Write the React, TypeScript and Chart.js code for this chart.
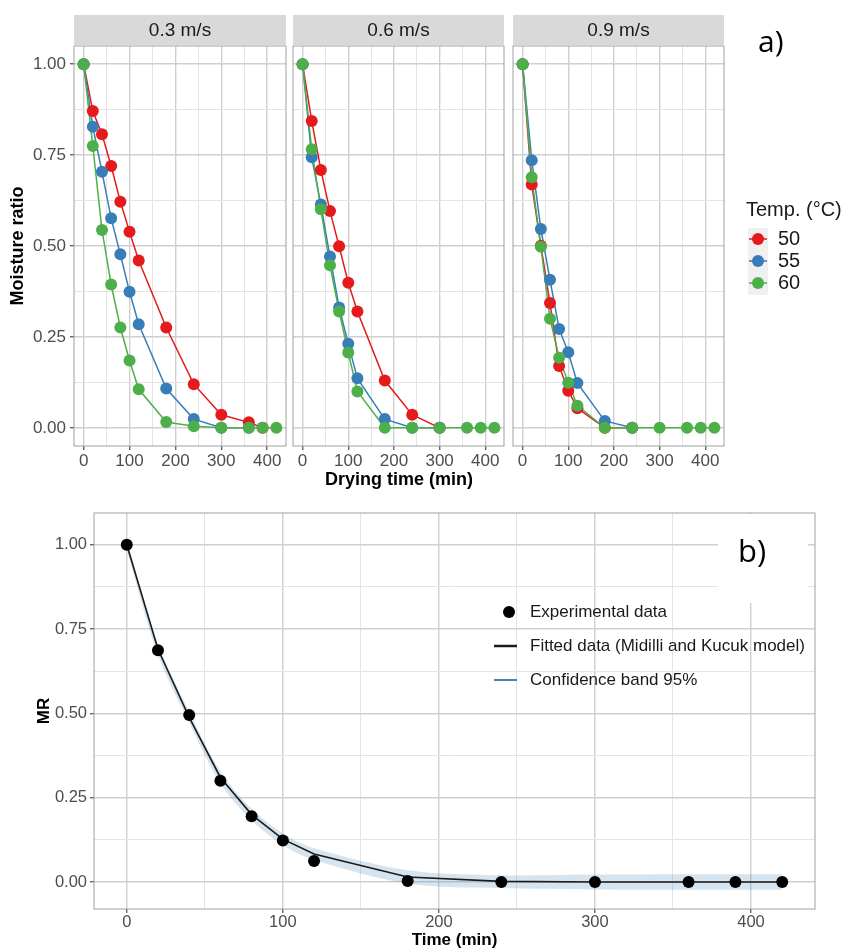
import React, { useEffect, useRef } from 'react';
import { Chart, registerables } from 'chart.js';

Chart.register(...registerables);

// ---------- data ----------
const TIMES = [0, 20, 40, 60, 80, 100, 120, 180, 240, 300, 360, 390, 420];
const TEMPS = ['50', '55', '60'];
const SPEEDS = ['0.3 m/s', '0.6 m/s', '0.9 m/s'];
const COLORS = ['#e41a1c', '#377eb8', '#4daf4a'];

// 0.3 m/s
const MR_03_50 = [1.0, 0.871, 0.807, 0.72, 0.622, 0.539, 0.46, 0.276, 0.12, 0.036, 0.015, 0.0, null];
const MR_03_55 = [1.0, 0.828, 0.704, 0.576, 0.477, 0.374, 0.285, 0.108, 0.024, 0.0, 0.0, null, null];
const MR_03_60 = [1.0, 0.775, 0.544, 0.394, 0.276, 0.185, 0.106, 0.016, 0.004, 0.0, 0.0, 0.0, 0.0];
// 0.6 m/s
const MR_06_50 = [1.0, 0.844, 0.709, 0.596, 0.499, 0.399, 0.32, 0.13, 0.036, 0.0, null, null, null];
const MR_06_55 = [1.0, 0.744, 0.614, 0.471, 0.331, 0.231, 0.136, 0.024, 0.0, 0.0, null, null, null];
const MR_06_60 = [1.0, 0.766, 0.601, 0.447, 0.32, 0.207, 0.1, 0.0, 0.0, 0.0, 0.0, 0.0, 0.0];
// 0.9 m/s
const MR_09_50 = [1.0, 0.669, 0.501, 0.343, 0.17, 0.102, 0.054, 0.0, 0.0, null, null, null, null];
const MR_09_55 = [1.0, 0.736, 0.547, 0.407, 0.272, 0.208, 0.123, 0.019, 0.0, null, null, null, null];
const MR_09_60 = [1.0, 0.689, 0.498, 0.3, 0.193, 0.124, 0.061, 0.0, 0.0, 0.0, 0.0, 0.0, 0.0];

const FACETS = [
  [MR_03_50, MR_03_55, MR_03_60],
  [MR_06_50, MR_06_55, MR_06_60],
  [MR_09_50, MR_09_55, MR_09_60],
];

// panel b
const B_TIMES = [0, 20, 40, 60, 80, 100, 120, 180, 240, 300, 360, 390, 420];
const B_EXP = [1.0, 0.687, 0.495, 0.3, 0.195, 0.123, 0.062, 0.003, 0.0, 0.0, 0.0, 0.0, 0.0];
const B_FIT = [1.0, 0.69, 0.488, 0.31, 0.2, 0.127, 0.083, 0.015, 0.002, 0.0, 0.0, 0.0, 0.0];
const B_LO = [0.985, 0.672, 0.472, 0.292, 0.183, 0.11, 0.065, -0.005, -0.018, -0.022, -0.023, -0.023, -0.023];
const B_HI = [1.015, 0.708, 0.505, 0.328, 0.217, 0.144, 0.1, 0.035, 0.02, 0.022, 0.023, 0.023, 0.023];

const X_GRID = [0, 50, 100, 150, 200, 250, 300, 350, 400];
const Y_GRID = [0, 0.125, 0.25, 0.375, 0.5, 0.625, 0.75, 0.875, 1.0];

// ---------- layout ----------
const W = 846;
const H = 950;
const A_LEFT = [74, 293, 513];
const A_RIGHT = [286, 504, 724];
const A_TOP = 46;
const A_BOTTOM = 446;
const B_BOX = { left: 94, right: 815, top: 513, bottom: 909 };

const FONT = '"Liberation Sans", Arial, Helvetica, sans-serif';
const TICK_COLOR = '#4d4d4d';

const isMajorX = (v: number) => Math.abs(v / 100 - Math.round(v / 100)) < 1e-6;
const isMajorY = (v: number) => Math.abs(v / 0.25 - Math.round(v / 0.25)) < 1e-6;

const toPts = (xs: number[], ys: (number | null)[]) =>
  xs.map((x, i) => ({ x, y: ys[i] })).filter((p) => p.y !== null && p.y !== undefined);

function gridOpts(isMajor: (v: number) => boolean, drawTicks: boolean) {
  return {
    display: true,
    drawTicks,
    tickLength: 4,
    color: (c: any) => (c.tick && isMajor(c.tick.value) ? '#cfcfcf' : '#e4e4e4'),
    lineWidth: (c: any) => (c.tick && isMajor(c.tick.value) ? 1.4 : 1),
    tickColor: (c: any) => (c.tick && isMajor(c.tick.value) ? '#666666' : 'rgba(0,0,0,0)'),
  };
}

function drawBorder(chart: any) {
  const { ctx, chartArea: a } = chart;
  ctx.save();
  ctx.strokeStyle = '#a0a0a0';
  ctx.lineWidth = 1;
  ctx.strokeRect(a.left, a.top, a.right - a.left, a.bottom - a.top);
  ctx.restore();
}

function facetConfig(idx: number): any {
  const series = FACETS[idx];
  const datasets: any[] = [];
  series.forEach((arr, k) => {
    datasets.push({
      label: TEMPS[k] + ' line',
      data: toPts(TIMES, arr),
      borderColor: COLORS[k],
      borderWidth: 1.5,
      pointRadius: 0,
      showLine: true,
      tension: 0,
      fill: false,
      order: 20 - k,
    });
  });
  series.forEach((arr, k) => {
    datasets.push({
      label: TEMPS[k],
      data: toPts(TIMES, arr),
      showLine: false,
      pointRadius: 6,
      pointBackgroundColor: COLORS[k],
      pointBorderColor: COLORS[k],
      pointBorderWidth: 0,
      order: 3 - k,
    });
  });

  const plugin = {
    id: 'facet' + idx,
    afterDraw(chart: any) {
      const { ctx, chartArea: a } = chart;
      drawBorder(chart);
      ctx.save();
      // strip
      ctx.fillStyle = '#d9d9d9';
      ctx.fillRect(a.left, 15, a.right - a.left, 30);
      ctx.fillStyle = '#1a1a1a';
      ctx.font = `19px ${FONT}`;
      ctx.textAlign = 'center';
      ctx.textBaseline = 'middle';
      ctx.fillText(SPEEDS[idx], (a.left + a.right) / 2, 31);
      if (idx === 0) {
        ctx.font = `bold 18px ${FONT}`;
        ctx.fillStyle = '#000';
        ctx.fillText('Drying time (min)', (A_LEFT[0] + A_RIGHT[2]) / 2, 480);
        ctx.save();
        ctx.translate(18, (A_TOP + A_BOTTOM) / 2);
        ctx.rotate(-Math.PI / 2);
        ctx.fillText('Moisture ratio', 0, 0);
        ctx.restore();
      }
      if (idx === 2) {
        ctx.textAlign = 'left';
        ctx.textBaseline = 'alphabetic';
        ctx.fillStyle = '#000';
        ctx.font = '30px "Open Sans", sans-serif';
        ctx.fillText('a)', 758, 52);
        ctx.fillStyle = '#1a1a1a';
        ctx.font = `20px ${FONT}`;
        ctx.fillText('Temp. (°C)', 746, 216);
        ctx.fillStyle = '#f0f0f0';
        ctx.fillRect(748, 228, 20, 67);
        TEMPS.forEach((t, k) => {
          const y = 239 + k * 22;
          ctx.strokeStyle = COLORS[k];
          ctx.lineWidth = 1.5;
          ctx.beginPath();
          ctx.moveTo(749, y);
          ctx.lineTo(767, y);
          ctx.stroke();
          ctx.fillStyle = COLORS[k];
          ctx.beginPath();
          ctx.arc(758, y, 6, 0, Math.PI * 2);
          ctx.fill();
          ctx.fillStyle = '#1a1a1a';
          ctx.textBaseline = 'middle';
          ctx.fillText(t, 778, y);
        });
      }
      ctx.restore();
    },
  };

  return {
    type: 'line',
    data: { datasets },
    plugins: [plugin],
    options: {
      animation: false,
      responsive: false,
      events: [],
      layout: {
        padding: {
          left: idx === 0 ? 0 : A_LEFT[idx],
          right: W - A_RIGHT[idx],
          top: A_TOP,
          bottom: H - A_BOTTOM - 30,
        },
      },
      plugins: { legend: { display: false }, tooltip: { enabled: false } },
      scales: {
        x: {
          type: 'linear',
          min: -21,
          max: 441,
          afterBuildTicks: (s: any) => {
            s.ticks = X_GRID.map((v) => ({ value: v }));
          },
          afterFit: (s: any) => {
            s.height = 30;
          },
          ticks: {
            autoSkip: false,
            maxRotation: 0,
            padding: 1,
            color: TICK_COLOR,
            font: { size: 17, family: FONT },
            callback: (v: any) => (isMajorX(v) ? String(v) : ''),
          },
          grid: gridOpts(isMajorX, true),
          border: { display: false },
        },
        y: {
          type: 'linear',
          min: -0.05,
          max: 1.05,
          afterBuildTicks: (s: any) => {
            s.ticks = Y_GRID.map((v) => ({ value: v }));
          },
          afterFit: (s: any) => {
            s.width = idx === 0 ? A_LEFT[0] : 0;
          },
          ticks: {
            display: idx === 0,
            autoSkip: false,
            padding: 4,
            color: TICK_COLOR,
            font: { size: 17, family: FONT },
            callback: (v: any) => (isMajorY(v) ? Number(v).toFixed(2) : ''),
          },
          grid: gridOpts(isMajorY, idx === 0),
          border: { display: false },
        },
      },
    },
  };
}

function panelBConfig(): any {
  const plugin = {
    id: 'panelB',
    beforeDatasetsDraw(chart: any) {
      const { ctx } = chart;
      ctx.save();
      ctx.fillStyle = '#ffffff';
      ctx.fillRect(718, 514, 90, 89);
      ctx.restore();
    },
    afterDraw(chart: any) {
      const { ctx, chartArea: a } = chart;
      drawBorder(chart);
      ctx.save();
      ctx.fillStyle = '#000';
      ctx.font = `bold 17px ${FONT}`;
      ctx.textAlign = 'center';
      ctx.textBaseline = 'middle';
      ctx.fillText('Time (min)', (a.left + a.right) / 2, 940);
      ctx.save();
      ctx.translate(44, (a.top + a.bottom) / 2);
      ctx.rotate(-Math.PI / 2);
      ctx.fillText('MR', 0, 0);
      ctx.restore();
      ctx.textAlign = 'left';
      ctx.textBaseline = 'alphabetic';
      ctx.font = '31px "Open Sans", sans-serif';
      ctx.fillText('b)', 738, 562);
      // legend
      ctx.font = `17px ${FONT}`;
      ctx.textBaseline = 'middle';
      ctx.fillStyle = '#000';
      ctx.beginPath();
      ctx.arc(509, 612, 6, 0, Math.PI * 2);
      ctx.fill();
      ctx.fillStyle = '#1a1a1a';
      ctx.fillText('Experimental data', 530, 612);
      ctx.strokeStyle = '#1a1a1a';
      ctx.lineWidth = 2.5;
      ctx.beginPath();
      ctx.moveTo(494, 646);
      ctx.lineTo(517, 646);
      ctx.stroke();
      ctx.fillText('Fitted data (Midilli and Kucuk model)', 530, 646);
      ctx.strokeStyle = '#4682b4';
      ctx.lineWidth = 2;
      ctx.beginPath();
      ctx.moveTo(494, 680);
      ctx.lineTo(517, 680);
      ctx.stroke();
      ctx.fillText('Confidence band 95%', 530, 680);
      ctx.restore();
    },
  };

  return {
    type: 'line',
    data: {
      datasets: [
        {
          label: 'lower',
          data: toPts(B_TIMES, B_LO),
          borderWidth: 0,
          borderColor: 'rgba(0,0,0,0)',
          pointRadius: 0,
          fill: false,
          tension: 0.3,
          order: 4,
        },
        {
          label: 'Confidence band 95%',
          data: toPts(B_TIMES, B_HI),
          borderWidth: 0,
          borderColor: 'rgba(0,0,0,0)',
          backgroundColor: 'rgba(70,130,180,0.22)',
          pointRadius: 0,
          fill: '-1',
          tension: 0.3,
          order: 3,
        },
        {
          label: 'Fitted data (Midilli and Kucuk model)',
          data: toPts(B_TIMES, B_FIT),
          borderColor: '#1a1a1a',
          borderWidth: 1.6,
          pointRadius: 0,
          fill: false,
          tension: 0,
          order: 2,
        },
        {
          label: 'Experimental data',
          data: toPts(B_TIMES, B_EXP),
          showLine: false,
          pointRadius: 6,
          pointBackgroundColor: '#000',
          pointBorderColor: '#000',
          pointBorderWidth: 0,
          order: 1,
        },
      ],
    },
    plugins: [plugin],
    options: {
      animation: false,
      responsive: false,
      events: [],
      layout: {
        padding: {
          left: 0,
          right: W - B_BOX.right,
          top: B_BOX.top,
          bottom: H - B_BOX.bottom - 30,
        },
      },
      plugins: { legend: { display: false }, tooltip: { enabled: false } },
      scales: {
        x: {
          type: 'linear',
          min: -21,
          max: 441,
          afterBuildTicks: (s: any) => {
            s.ticks = X_GRID.map((v) => ({ value: v }));
          },
          afterFit: (s: any) => {
            s.height = 30;
          },
          ticks: {
            autoSkip: false,
            maxRotation: 0,
            padding: 0,
            color: TICK_COLOR,
            font: { size: 16.5, family: FONT },
            callback: (v: any) => (isMajorX(v) ? String(v) : ''),
          },
          grid: gridOpts(isMajorX, true),
          border: { display: false },
        },
        y: {
          type: 'linear',
          min: -0.08,
          max: 1.094,
          afterBuildTicks: (s: any) => {
            s.ticks = Y_GRID.map((v) => ({ value: v }));
          },
          afterFit: (s: any) => {
            s.width = B_BOX.left;
          },
          ticks: {
            autoSkip: false,
            padding: 3,
            color: TICK_COLOR,
            font: { size: 16.5, family: FONT },
            callback: (v: any) => (isMajorY(v) ? Number(v).toFixed(2) : ''),
          },
          grid: gridOpts(isMajorY, true),
          border: { display: false },
        },
      },
    },
  };
}

export default function App() {
  const r0 = useRef<HTMLCanvasElement>(null);
  const r1 = useRef<HTMLCanvasElement>(null);
  const r2 = useRef<HTMLCanvasElement>(null);
  const r3 = useRef<HTMLCanvasElement>(null);

  useEffect(() => {
    const charts: Chart[] = [];
    [r0, r1, r2].forEach((r, i) => {
      if (r.current) charts.push(new Chart(r.current, facetConfig(i)));
    });
    if (r3.current) charts.push(new Chart(r3.current, panelBConfig()));
    return () => charts.forEach((c) => c.destroy());
  }, []);

  const cs: React.CSSProperties = { position: 'absolute', left: 0, top: 0, width: W, height: H };
  return (
    <div style={{ position: 'absolute', left: 0, top: 0, width: W, height: H, background: '#ffffff' }}>
      <canvas ref={r0} width={W} height={H} style={cs} />
      <canvas ref={r1} width={W} height={H} style={cs} />
      <canvas ref={r2} width={W} height={H} style={cs} />
      <canvas ref={r3} width={W} height={H} style={cs} />
    </div>
  );
}
